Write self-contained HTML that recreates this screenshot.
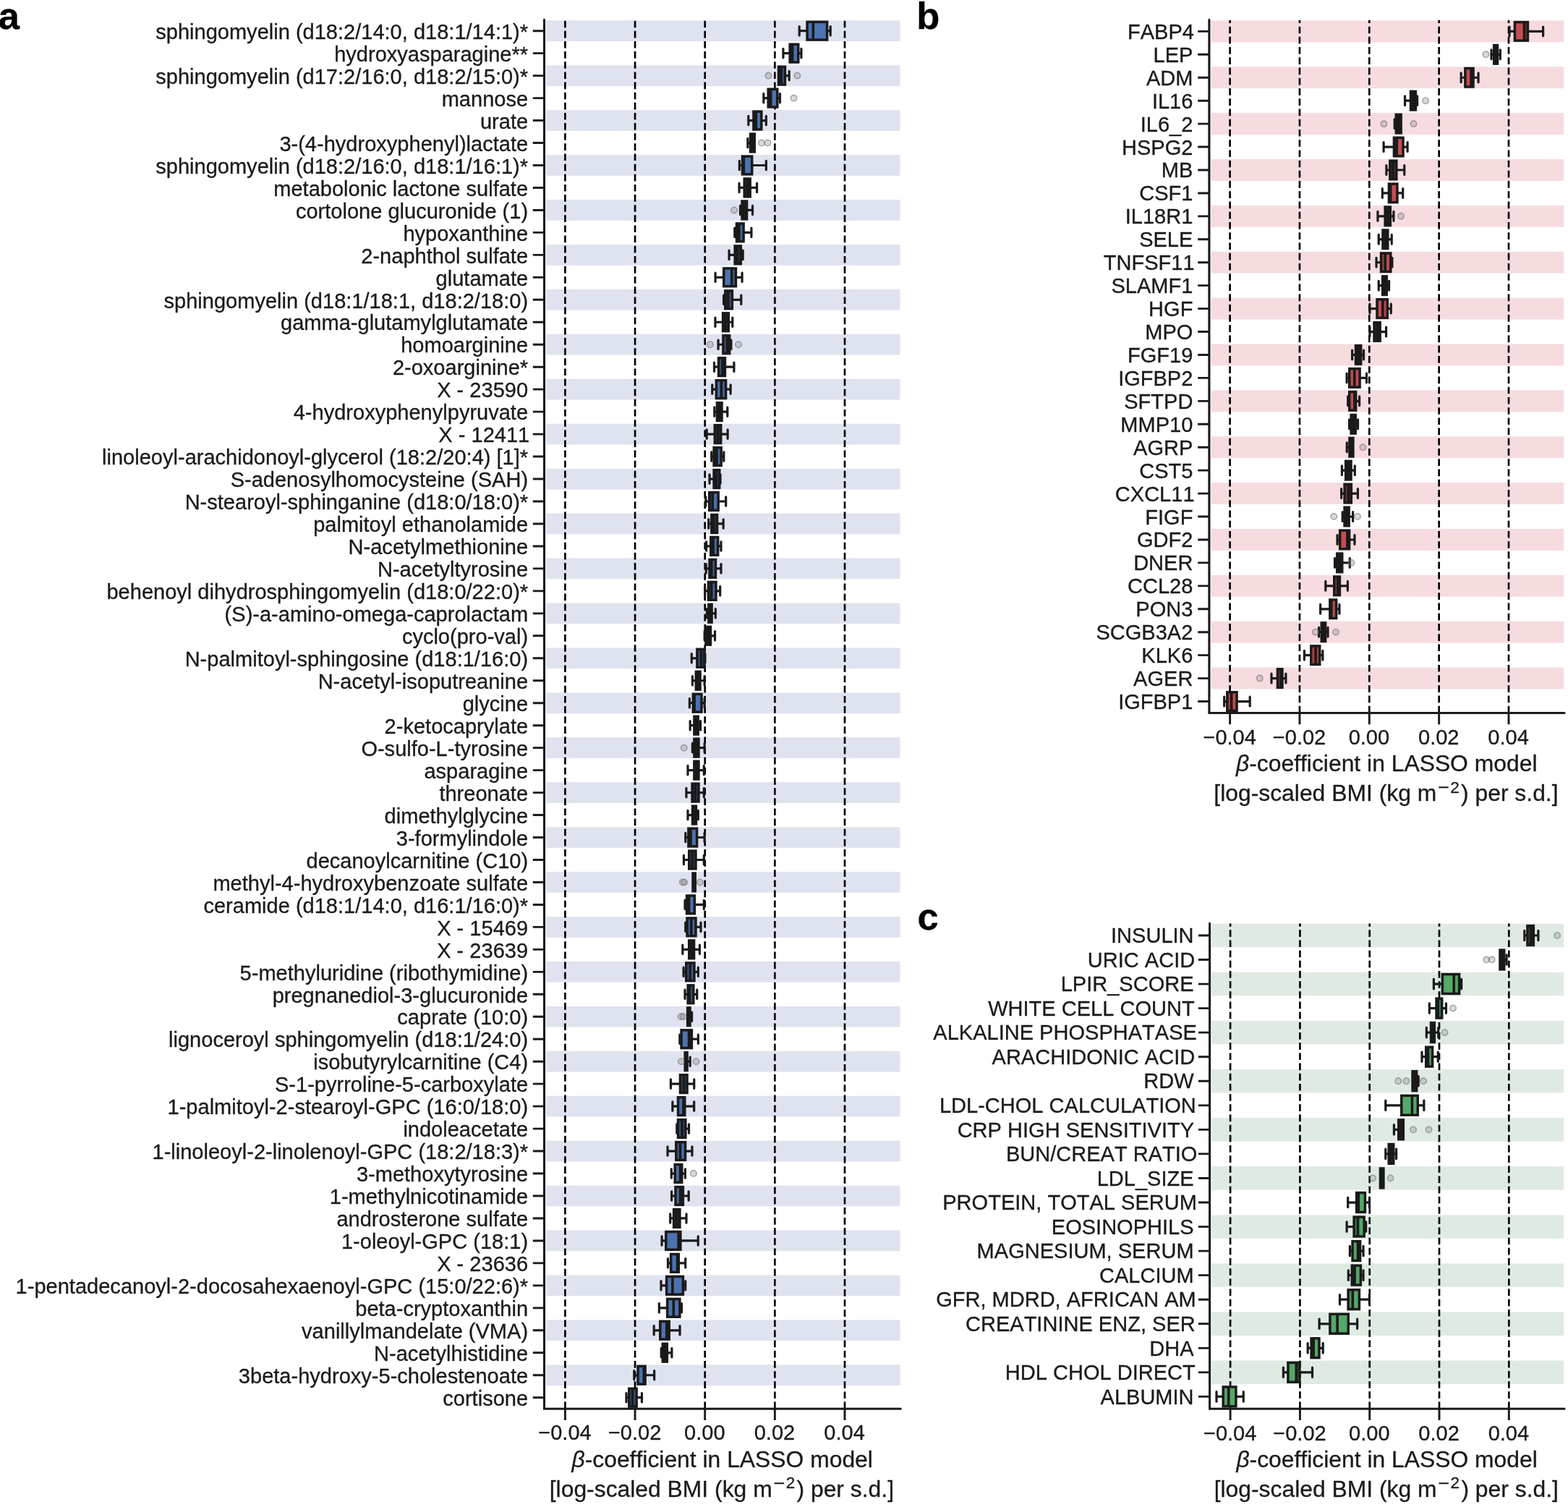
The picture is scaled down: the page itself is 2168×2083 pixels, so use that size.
<!DOCTYPE html>
<html lang="en">
<head>
<meta charset="utf-8">
<title>LASSO model beta-coefficients</title>
<style>
html,body{margin:0;padding:0;background:#fff;}
body{width:2168px;height:2083px;overflow:hidden;}
svg{display:block;font-family:'Liberation Sans', Arial, Helvetica, sans-serif;}
text{white-space:pre;font-kerning:none;stroke:#1a1a1a;stroke-width:0.3px;paint-order:stroke;}
</style>
</head>
<body>
<svg width="2168" height="2083" viewBox="0 0 2168 2083" role="img" aria-label="Box plots of beta-coefficients in LASSO models">
<rect width="2168" height="2083" fill="#fff"/>
<g class="panel-a">
<g fill="#dfe3f0">
<rect x="755.1" y="28.33" width="489.4" height="28.7"/>
<rect x="755.1" y="90.27" width="489.4" height="28.7"/>
<rect x="755.1" y="152.2" width="489.4" height="28.7"/>
<rect x="755.1" y="214.14" width="489.4" height="28.7"/>
<rect x="755.1" y="276.08" width="489.4" height="28.7"/>
<rect x="755.1" y="338.01" width="489.4" height="28.7"/>
<rect x="755.1" y="399.95" width="489.4" height="28.7"/>
<rect x="755.1" y="461.88" width="489.4" height="28.7"/>
<rect x="755.1" y="523.82" width="489.4" height="28.7"/>
<rect x="755.1" y="585.75" width="489.4" height="28.7"/>
<rect x="755.1" y="647.69" width="489.4" height="28.7"/>
<rect x="755.1" y="709.62" width="489.4" height="28.7"/>
<rect x="755.1" y="771.56" width="489.4" height="28.7"/>
<rect x="755.1" y="833.5" width="489.4" height="28.7"/>
<rect x="755.1" y="895.43" width="489.4" height="28.7"/>
<rect x="755.1" y="957.37" width="489.4" height="28.7"/>
<rect x="755.1" y="1019.3" width="489.4" height="28.7"/>
<rect x="755.1" y="1081.24" width="489.4" height="28.7"/>
<rect x="755.1" y="1143.17" width="489.4" height="28.7"/>
<rect x="755.1" y="1205.11" width="489.4" height="28.7"/>
<rect x="755.1" y="1267.04" width="489.4" height="28.7"/>
<rect x="755.1" y="1328.98" width="489.4" height="28.7"/>
<rect x="755.1" y="1390.91" width="489.4" height="28.7"/>
<rect x="755.1" y="1452.85" width="489.4" height="28.7"/>
<rect x="755.1" y="1514.79" width="489.4" height="28.7"/>
<rect x="755.1" y="1576.72" width="489.4" height="28.7"/>
<rect x="755.1" y="1638.66" width="489.4" height="28.7"/>
<rect x="755.1" y="1700.59" width="489.4" height="28.7"/>
<rect x="755.1" y="1762.53" width="489.4" height="28.7"/>
<rect x="755.1" y="1824.46" width="489.4" height="28.7"/>
<rect x="755.1" y="1886.4" width="489.4" height="28.7"/>
</g>
<g stroke="#000" stroke-width="2.65" stroke-dasharray="9.62 4.52" fill="none">
<line x1="781.4" y1="1947.2" x2="781.4" y2="27.6"/>
<line x1="878.05" y1="1947.2" x2="878.05" y2="27.6"/>
<line x1="974.7" y1="1947.2" x2="974.7" y2="27.6"/>
<line x1="1071.35" y1="1947.2" x2="1071.35" y2="27.6"/>
<line x1="1168" y1="1947.2" x2="1168" y2="27.6"/>
</g>
<g stroke="#1a1a1a" stroke-width="3.5" stroke-linecap="round" fill="none">
<path d="M1105.2 36.49V48.88M1105.2 42.68H1116.04" stroke-width="3.2"/>
<path d="M1148.22 36.49V48.88M1148.22 42.68H1143.6" stroke-width="3.2"/>
<rect x="1116.04" y="30.3" width="27.56" height="24.77" fill="#1a1a1a" stroke-linejoin="miter"/>
<rect x="1117.79" y="32.05" width="4.73" height="21.27" fill="#4c71af" stroke="none"/>
<rect x="1126.12" y="32.05" width="15.73" height="21.27" fill="#4c72b0" stroke="none"/>
<path d="M1082.9 67.46V79.85M1082.9 73.65H1092.14" stroke-width="3.2"/>
<path d="M1107.91 67.46V79.85M1107.91 73.65H1103.77" stroke-width="3.2"/>
<rect x="1092.14" y="61.26" width="11.63" height="24.77" fill="#1a1a1a" stroke-linejoin="miter"/>
<rect x="1097.45" y="63.01" width="4.57" height="21.27" fill="#4b71ae" stroke="none"/>
<path d="M1091.18 98.43V110.81M1091.18 104.62H1085.45" stroke-width="3.2"/>
<rect x="1076.52" y="92.23" width="8.93" height="24.77" fill="#1a1a1a" stroke-linejoin="miter"/>
<rect x="1081.83" y="93.98" width="1.87" height="21.27" fill="#3d5883" stroke="none"/>
<path d="M1055.82 129.39V141.78M1055.82 135.59H1062.19" stroke-width="3.2"/>
<path d="M1078.44 129.39V141.78M1078.44 135.59H1074.78" stroke-width="3.2"/>
<rect x="1062.19" y="123.2" width="12.59" height="24.77" fill="#1a1a1a" stroke-linejoin="miter"/>
<rect x="1067.49" y="124.95" width="5.54" height="21.27" fill="#4c72b0" stroke="none"/>
<path d="M1034.78 160.36V172.75M1034.78 166.55H1041.95" stroke-width="3.2"/>
<path d="M1059.32 160.36V172.75M1059.32 166.55H1052.79" stroke-width="3.2"/>
<rect x="1041.95" y="154.17" width="10.84" height="24.77" fill="#1a1a1a" stroke-linejoin="miter"/>
<rect x="1047.1" y="155.92" width="3.94" height="21.27" fill="#4b6fac" stroke="none"/>
<path d="M1033.83 191.33V203.72M1033.83 197.52H1037.49" stroke-width="3.2"/>
<rect x="1037.49" y="185.14" width="5.74" height="24.77" fill="#1a1a1a" stroke-linejoin="miter"/>
<path d="M1022.36 222.3V234.68M1022.36 228.49H1026.5" stroke-width="3.2"/>
<path d="M1059.32 222.3V234.68M1059.32 228.49H1039.73" stroke-width="3.2"/>
<rect x="1026.5" y="216.1" width="13.23" height="24.77" fill="#1a1a1a" stroke-linejoin="miter"/>
<rect x="1030.05" y="217.85" width="7.93" height="21.27" fill="#4c72b0" stroke="none"/>
<path d="M1022.04 253.26V265.65M1022.04 259.46H1029.21" stroke-width="3.2"/>
<path d="M1046.57 253.26V265.65M1046.57 259.46H1037.18" stroke-width="3.2"/>
<rect x="1029.21" y="247.07" width="7.97" height="24.77" fill="#1a1a1a" stroke-linejoin="miter"/>
<rect x="1030.96" y="248.82" width="0.75" height="21.27" fill="#2a364a" stroke="none"/>
<path d="M1023.47 284.23V296.62M1023.47 290.43H1026.02" stroke-width="3.2"/>
<path d="M1040.52 284.23V296.62M1040.52 290.43H1032.56" stroke-width="3.2"/>
<rect x="1026.02" y="278.04" width="6.54" height="24.77" fill="#1a1a1a" stroke-linejoin="miter"/>
<path d="M1015.83 315.2V327.59M1015.83 321.39H1018.53" stroke-width="3.2"/>
<path d="M1038.93 315.2V327.59M1038.93 321.39H1028.1" stroke-width="3.2"/>
<rect x="1018.53" y="309.01" width="9.57" height="24.77" fill="#1a1a1a" stroke-linejoin="miter"/>
<rect x="1023.68" y="310.76" width="2.67" height="21.27" fill="#45669b" stroke="none"/>
<path d="M1008.05 346.17V358.55M1008.05 352.36H1016.17" stroke-width="3.2"/>
<path d="M1027.16 346.17V358.55M1027.16 352.36H1024.3" stroke-width="3.2"/>
<rect x="1016.17" y="339.97" width="8.13" height="24.77" fill="#1a1a1a" stroke-linejoin="miter"/>
<rect x="1021.48" y="341.72" width="1.07" height="21.27" fill="#30415d" stroke="none"/>
<path d="M989.09 377.14V389.52M989.09 383.33H1000.71" stroke-width="3.2"/>
<path d="M1026.05 377.14V389.52M1026.05 383.33H1017.45" stroke-width="3.2"/>
<rect x="1000.71" y="370.94" width="16.74" height="24.77" fill="#1a1a1a" stroke-linejoin="miter"/>
<rect x="1002.46" y="372.69" width="7.45" height="21.27" fill="#4c72b0" stroke="none"/>
<rect x="1013.51" y="372.69" width="2.19" height="21.27" fill="#415e8e" stroke="none"/>
<path d="M1000.56 408.1V420.49M1000.56 414.3H1002.79" stroke-width="3.2"/>
<path d="M1024.77 408.1V420.49M1024.77 414.3H1012.35" stroke-width="3.2"/>
<rect x="1002.79" y="401.91" width="9.56" height="24.77" fill="#1a1a1a" stroke-linejoin="miter"/>
<rect x="1004.54" y="403.66" width="0.59" height="21.27" fill="#273141" stroke="none"/>
<rect x="1008.73" y="403.66" width="1.87" height="21.27" fill="#3d5883" stroke="none"/>
<path d="M988.93 439.07V451.46M988.93 445.26H999.6" stroke-width="3.2"/>
<path d="M1012.83 439.07V451.46M1012.83 445.26H1007.25" stroke-width="3.2"/>
<rect x="999.6" y="432.88" width="7.65" height="24.77" fill="#1a1a1a" stroke-linejoin="miter"/>
<rect x="1005.07" y="434.63" width="0.43" height="21.27" fill="#232b36" stroke="none"/>
<path d="M993.07 470.04V482.43M993.07 476.23H999.92" stroke-width="3.2"/>
<path d="M1010.91 470.04V482.43M1010.91 476.23H1008.69" stroke-width="3.2"/>
<rect x="999.92" y="463.85" width="8.77" height="24.77" fill="#1a1a1a" stroke-linejoin="miter"/>
<rect x="1001.67" y="465.6" width="1.87" height="21.27" fill="#3d5883" stroke="none"/>
<path d="M987.49 501.01V513.39M987.49 507.2H993.55" stroke-width="3.2"/>
<path d="M1014.9 501.01V513.39M1014.9 507.2H1002.47" stroke-width="3.2"/>
<rect x="993.55" y="494.81" width="8.92" height="24.77" fill="#1a1a1a" stroke-linejoin="miter"/>
<rect x="995.3" y="496.56" width="1.86" height="21.27" fill="#3d5783" stroke="none"/>
<path d="M984.78 531.97V544.36M984.78 538.17H990.36" stroke-width="3.2"/>
<path d="M1010.12 531.97V544.36M1010.12 538.17H1003.59" stroke-width="3.2"/>
<rect x="990.36" y="525.78" width="13.23" height="24.77" fill="#1a1a1a" stroke-linejoin="miter"/>
<rect x="992.11" y="527.53" width="3.46" height="21.27" fill="#496da8" stroke="none"/>
<rect x="999.17" y="527.53" width="2.67" height="21.27" fill="#45669b" stroke="none"/>
<path d="M987.81 562.94V575.33M987.81 569.14H991.47" stroke-width="3.2"/>
<path d="M1005.82 562.94V575.33M1005.82 569.14H998.01" stroke-width="3.2"/>
<rect x="991.47" y="556.75" width="6.54" height="24.77" fill="#1a1a1a" stroke-linejoin="miter"/>
<rect x="995.98" y="558.5" width="0.28" height="21.27" fill="#20252d" stroke="none"/>
<path d="M977.14 593.91V606.3M977.14 600.1H988.29" stroke-width="3.2"/>
<path d="M1006.13 593.91V606.3M1006.13 600.1H996.74" stroke-width="3.2"/>
<rect x="988.29" y="587.72" width="8.45" height="24.77" fill="#1a1a1a" stroke-linejoin="miter"/>
<rect x="990.04" y="589.47" width="0.75" height="21.27" fill="#2a364a" stroke="none"/>
<rect x="994.39" y="589.47" width="0.6" height="21.27" fill="#273141" stroke="none"/>
<path d="M983.74 624.88V637.26M983.74 631.07H987.09" stroke-width="3.2"/>
<path d="M1000.79 624.88V637.26M1000.79 631.07H997.13" stroke-width="3.2"/>
<rect x="987.09" y="618.68" width="10.04" height="24.77" fill="#1a1a1a" stroke-linejoin="miter"/>
<rect x="988.84" y="620.43" width="0.27" height="21.27" fill="#20242c" stroke="none"/>
<rect x="992.71" y="620.43" width="2.67" height="21.27" fill="#45669b" stroke="none"/>
<path d="M981.04 655.85V668.23M981.04 662.04H987.09" stroke-width="3.2"/>
<path d="M996.01 655.85V668.23M996.01 662.04H994.74" stroke-width="3.2"/>
<rect x="987.09" y="649.65" width="7.65" height="24.77" fill="#1a1a1a" stroke-linejoin="miter"/>
<rect x="991.92" y="651.4" width="1.07" height="21.27" fill="#30415d" stroke="none"/>
<path d="M975.78 686.81V699.2M975.78 693.01H980.71" stroke-width="3.2"/>
<path d="M1003.66 686.81V699.2M1003.66 693.01H993.15" stroke-width="3.2"/>
<rect x="980.71" y="680.62" width="12.44" height="24.77" fill="#1a1a1a" stroke-linejoin="miter"/>
<rect x="982.46" y="682.37" width="1.08" height="21.27" fill="#31425e" stroke="none"/>
<rect x="987.14" y="682.37" width="4.26" height="21.27" fill="#4b70ad" stroke="none"/>
<path d="M979.76 717.78V730.17M979.76 723.97H983.9" stroke-width="3.2"/>
<path d="M1000.15 717.78V730.17M1000.15 723.97H991.55" stroke-width="3.2"/>
<rect x="983.9" y="711.59" width="7.65" height="24.77" fill="#1a1a1a" stroke-linejoin="miter"/>
<rect x="988.73" y="713.34" width="1.07" height="21.27" fill="#30415d" stroke="none"/>
<path d="M976.57 748.75V761.14M976.57 754.94H982.79" stroke-width="3.2"/>
<path d="M996.97 748.75V761.14M996.97 754.94H992.67" stroke-width="3.2"/>
<rect x="982.79" y="742.55" width="9.88" height="24.77" fill="#1a1a1a" stroke-linejoin="miter"/>
<rect x="987.93" y="744.3" width="2.99" height="21.27" fill="#4769a1" stroke="none"/>
<path d="M976.26 779.72V792.1M976.26 785.91H981.03" stroke-width="3.2"/>
<path d="M996.97 779.72V792.1M996.97 785.91H989.48" stroke-width="3.2"/>
<rect x="981.03" y="773.52" width="8.45" height="24.77" fill="#1a1a1a" stroke-linejoin="miter"/>
<rect x="985.54" y="775.27" width="2.19" height="21.27" fill="#415e8e" stroke="none"/>
<path d="M974.66 810.68V823.07M974.66 816.88H979.44" stroke-width="3.2"/>
<path d="M995.69 810.68V823.07M995.69 816.88H989.96" stroke-width="3.2"/>
<rect x="979.44" y="804.49" width="10.52" height="24.77" fill="#1a1a1a" stroke-linejoin="miter"/>
<rect x="981.19" y="806.24" width="0.75" height="21.27" fill="#2a364a" stroke="none"/>
<rect x="985.54" y="806.24" width="2.67" height="21.27" fill="#45669b" stroke="none"/>
<path d="M977.37 841.65V854.04M977.37 847.85H979.92" stroke-width="3.2"/>
<path d="M989.32 841.65V854.04M989.32 847.85H984.07" stroke-width="3.2"/>
<rect x="979.92" y="835.46" width="4.15" height="24.77" fill="#1a1a1a" stroke-linejoin="miter"/>
<path d="M974.18 872.62V885.01M974.18 878.81H975.93" stroke-width="3.2"/>
<path d="M988.52 872.62V885.01M988.52 878.81H982.47" stroke-width="3.2"/>
<rect x="975.93" y="866.43" width="6.54" height="24.77" fill="#1a1a1a" stroke-linejoin="miter"/>
<path d="M956.26 903.59V915.97M956.26 909.78H963.9" stroke-width="3.2"/>
<path d="M974.9 903.59V915.97M974.9 909.78H973.94" stroke-width="3.2"/>
<rect x="963.9" y="897.39" width="10.04" height="24.77" fill="#1a1a1a" stroke-linejoin="miter"/>
<rect x="965.65" y="899.14" width="1.87" height="21.27" fill="#3d5883" stroke="none"/>
<rect x="971.12" y="899.14" width="1.07" height="21.27" fill="#30415d" stroke="none"/>
<path d="M957.37 934.55V946.94M957.37 940.75H962.31" stroke-width="3.2"/>
<path d="M974.1 934.55V946.94M974.1 940.75H968.05" stroke-width="3.2"/>
<rect x="962.31" y="928.36" width="5.74" height="24.77" fill="#1a1a1a" stroke-linejoin="miter"/>
<path d="M953.39 965.52V977.91M953.39 971.72H958.32" stroke-width="3.2"/>
<path d="M974.1 965.52V977.91M974.1 971.72H969.96" stroke-width="3.2"/>
<rect x="958.32" y="959.33" width="11.64" height="24.77" fill="#1a1a1a" stroke-linejoin="miter"/>
<rect x="961.87" y="961.08" width="6.34" height="21.27" fill="#4c72b0" stroke="none"/>
<path d="M954.18 996.49V1008.88M954.18 1002.68H959.92" stroke-width="3.2"/>
<path d="M968.52 996.49V1008.88M968.52 1002.68H965.18" stroke-width="3.2"/>
<rect x="959.92" y="990.3" width="5.26" height="24.77" fill="#1a1a1a" stroke-linejoin="miter"/>
<path d="M957.37 1027.46V1039.85M957.37 1033.65H959.92" stroke-width="3.2"/>
<path d="M974.1 1027.46V1039.85M974.1 1033.65H965.98" stroke-width="3.2"/>
<rect x="959.92" y="1021.26" width="6.06" height="24.77" fill="#1a1a1a" stroke-linejoin="miter"/>
<path d="M951 1058.43V1070.81M951 1064.62H959.92" stroke-width="3.2"/>
<path d="M973.3 1058.43V1070.81M973.3 1064.62H965.98" stroke-width="3.2"/>
<rect x="959.92" y="1052.23" width="6.06" height="24.77" fill="#1a1a1a" stroke-linejoin="miter"/>
<path d="M948.93 1089.39V1101.78M948.93 1095.59H957.05" stroke-width="3.2"/>
<path d="M973.3 1089.39V1101.78M973.3 1095.59H965.98" stroke-width="3.2"/>
<rect x="957.05" y="1083.2" width="8.93" height="24.77" fill="#1a1a1a" stroke-linejoin="miter"/>
<rect x="958.8" y="1084.95" width="0.75" height="21.27" fill="#2a364a" stroke="none"/>
<rect x="963.15" y="1084.95" width="1.08" height="21.27" fill="#31425e" stroke="none"/>
<path d="M951 1120.36V1132.75M951 1126.55H957.53" stroke-width="3.2"/>
<path d="M965.34 1120.36V1132.75M965.34 1126.55H962.47" stroke-width="3.2"/>
<rect x="957.53" y="1114.17" width="4.94" height="24.77" fill="#1a1a1a" stroke-linejoin="miter"/>
<path d="M947.81 1151.33V1163.72M947.81 1157.52H951.95" stroke-width="3.2"/>
<path d="M974.1 1151.33V1163.72M974.1 1157.52H963.59" stroke-width="3.2"/>
<rect x="951.95" y="1145.14" width="11.64" height="24.77" fill="#1a1a1a" stroke-linejoin="miter"/>
<rect x="956.78" y="1146.89" width="5.06" height="21.27" fill="#4c72af" stroke="none"/>
<path d="M945.42 1182.3V1194.68M945.42 1188.49H952.75" stroke-width="3.2"/>
<path d="M973.3 1182.3V1194.68M973.3 1188.49H961.99" stroke-width="3.2"/>
<rect x="952.75" y="1176.1" width="9.24" height="24.77" fill="#1a1a1a" stroke-linejoin="miter"/>
<rect x="954.5" y="1177.85" width="1.07" height="21.27" fill="#30415d" stroke="none"/>
<rect x="959.17" y="1177.85" width="1.07" height="21.27" fill="#30415d" stroke="none"/>
<rect x="958.01" y="1207.07" width="3.19" height="24.77" fill="#1a1a1a" stroke-linejoin="miter"/>
<path d="M947.02 1244.23V1256.62M947.02 1250.43H949.56" stroke-width="3.2"/>
<path d="M973.3 1244.23V1256.62M973.3 1250.43H960.4" stroke-width="3.2"/>
<rect x="949.56" y="1238.04" width="10.84" height="24.77" fill="#1a1a1a" stroke-linejoin="miter"/>
<rect x="954.39" y="1239.79" width="4.26" height="21.27" fill="#4b70ad" stroke="none"/>
<path d="M947.81 1275.2V1287.59M947.81 1281.39H950.04" stroke-width="3.2"/>
<path d="M969 1275.2V1287.59M969 1281.39H961.99" stroke-width="3.2"/>
<rect x="950.04" y="1269.01" width="11.95" height="24.77" fill="#1a1a1a" stroke-linejoin="miter"/>
<rect x="951.79" y="1270.76" width="2.19" height="21.27" fill="#415e8e" stroke="none"/>
<rect x="957.58" y="1270.76" width="2.66" height="21.27" fill="#45669b" stroke="none"/>
<path d="M943.83 1306.17V1318.55M943.83 1312.36H952.75" stroke-width="3.2"/>
<path d="M967.41 1306.17V1318.55M967.41 1312.36H959.6" stroke-width="3.2"/>
<rect x="952.75" y="1299.97" width="6.85" height="24.77" fill="#1a1a1a" stroke-linejoin="miter"/>
<path d="M945.1 1337.14V1349.52M945.1 1343.33H948.77" stroke-width="3.2"/>
<path d="M965.34 1337.14V1349.52M965.34 1343.33H959.92" stroke-width="3.2"/>
<rect x="948.77" y="1330.94" width="11.15" height="24.77" fill="#1a1a1a" stroke-linejoin="miter"/>
<rect x="950.52" y="1332.69" width="1.86" height="21.27" fill="#3d5783" stroke="none"/>
<rect x="955.98" y="1332.69" width="2.19" height="21.27" fill="#415e8e" stroke="none"/>
<path d="M947.02 1368.1V1380.49M947.02 1374.3H951.16" stroke-width="3.2"/>
<path d="M963.74 1368.1V1380.49M963.74 1374.3H958.81" stroke-width="3.2"/>
<rect x="951.16" y="1361.91" width="7.65" height="24.77" fill="#1a1a1a" stroke-linejoin="miter"/>
<rect x="955.19" y="1363.66" width="1.87" height="21.27" fill="#3d5883" stroke="none"/>
<path d="M956.57 1399.07V1411.46M956.57 1405.26H954.03" stroke-width="3.2"/>
<rect x="950.68" y="1392.88" width="3.35" height="24.77" fill="#1a1a1a" stroke-linejoin="miter"/>
<path d="M939.85 1430.04V1442.43M939.85 1436.23H942.07" stroke-width="3.2"/>
<path d="M965.34 1430.04V1442.43M965.34 1436.23H956.42" stroke-width="3.2"/>
<rect x="942.07" y="1423.85" width="14.35" height="24.77" fill="#1a1a1a" stroke-linejoin="miter"/>
<rect x="943.82" y="1425.6" width="6.97" height="21.27" fill="#4c72b0" stroke="none"/>
<rect x="954.39" y="1425.6" width="0.28" height="21.27" fill="#20252d" stroke="none"/>
<path d="M954.18 1461.01V1473.39M954.18 1467.2H950.05" stroke-width="3.2"/>
<rect x="947.17" y="1454.81" width="2.88" height="24.77" fill="#1a1a1a" stroke-linejoin="miter"/>
<path d="M927.42 1491.97V1504.36M927.42 1498.17H940.48" stroke-width="3.2"/>
<path d="M959.76 1491.97V1504.36M959.76 1498.17H950.05" stroke-width="3.2"/>
<rect x="940.48" y="1485.78" width="9.57" height="24.77" fill="#1a1a1a" stroke-linejoin="miter"/>
<rect x="942.23" y="1487.53" width="1.39" height="21.27" fill="#364b6e" stroke="none"/>
<rect x="947.22" y="1487.53" width="1.08" height="21.27" fill="#31425e" stroke="none"/>
<path d="M929.88 1522.94V1535.33M929.88 1529.14H937.53" stroke-width="3.2"/>
<path d="M959.68 1522.94V1535.33M959.68 1529.14H946.77" stroke-width="3.2"/>
<rect x="937.53" y="1516.75" width="9.24" height="24.77" fill="#1a1a1a" stroke-linejoin="miter"/>
<rect x="939.28" y="1518.5" width="3.94" height="21.27" fill="#4b6fac" stroke="none"/>
<path d="M935.78 1553.91V1566.3M935.78 1560.1H937.53" stroke-width="3.2"/>
<path d="M952.51 1553.91V1566.3M952.51 1560.1H947.89" stroke-width="3.2"/>
<rect x="937.53" y="1547.72" width="10.36" height="24.77" fill="#1a1a1a" stroke-linejoin="miter"/>
<rect x="939.28" y="1549.47" width="1.87" height="21.27" fill="#3d5883" stroke="none"/>
<rect x="944.75" y="1549.47" width="1.39" height="21.27" fill="#364b6e" stroke="none"/>
<path d="M923.03 1584.88V1597.26M923.03 1591.07H934.82" stroke-width="3.2"/>
<path d="M956.97 1584.88V1597.26M956.97 1591.07H947.57" stroke-width="3.2"/>
<rect x="934.82" y="1578.68" width="12.75" height="24.77" fill="#1a1a1a" stroke-linejoin="miter"/>
<rect x="936.57" y="1580.43" width="2.19" height="21.27" fill="#415e8e" stroke="none"/>
<rect x="942.36" y="1580.43" width="3.46" height="21.27" fill="#496da8" stroke="none"/>
<path d="M928.29 1615.85V1628.23M928.29 1622.04H933.23" stroke-width="3.2"/>
<path d="M947.41 1615.85V1628.23M947.41 1622.04H942.79" stroke-width="3.2"/>
<rect x="933.23" y="1609.65" width="9.56" height="24.77" fill="#1a1a1a" stroke-linejoin="miter"/>
<rect x="934.98" y="1611.4" width="3.78" height="21.27" fill="#4a6fab" stroke="none"/>
<path d="M928.61 1646.81V1659.2M928.61 1653.01H934.02" stroke-width="3.2"/>
<path d="M952.19 1646.81V1659.2M952.19 1653.01H944.38" stroke-width="3.2"/>
<rect x="934.02" y="1640.62" width="10.36" height="24.77" fill="#1a1a1a" stroke-linejoin="miter"/>
<rect x="935.77" y="1642.37" width="2.99" height="21.27" fill="#4769a1" stroke="none"/>
<rect x="942.36" y="1642.37" width="0.27" height="21.27" fill="#20242c" stroke="none"/>
<path d="M926.7 1677.78V1690.17M926.7 1683.97H931.63" stroke-width="3.2"/>
<path d="M949 1677.78V1690.17M949 1683.97H939.92" stroke-width="3.2"/>
<rect x="931.63" y="1671.59" width="8.29" height="24.77" fill="#1a1a1a" stroke-linejoin="miter"/>
<rect x="933.38" y="1673.34" width="0.6" height="21.27" fill="#273141" stroke="none"/>
<rect x="937.58" y="1673.34" width="0.59" height="21.27" fill="#273141" stroke="none"/>
<path d="M915.07 1708.75V1721.14M915.07 1714.94H920.8" stroke-width="3.2"/>
<path d="M965.25 1708.75V1721.14M965.25 1714.94H940.88" stroke-width="3.2"/>
<rect x="920.8" y="1702.55" width="20.08" height="24.77" fill="#1a1a1a" stroke-linejoin="miter"/>
<rect x="922.55" y="1704.3" width="13.82" height="21.27" fill="#4c72b0" stroke="none"/>
<path d="M923.51 1739.72V1752.1M923.51 1745.91H927.65" stroke-width="3.2"/>
<path d="M947.73 1739.72V1752.1M947.73 1745.91H938.33" stroke-width="3.2"/>
<rect x="927.65" y="1733.52" width="10.68" height="24.77" fill="#1a1a1a" stroke-linejoin="miter"/>
<rect x="929.4" y="1735.27" width="5.38" height="21.27" fill="#4c72b0" stroke="none"/>
<path d="M913.95 1770.68V1783.07M913.95 1776.88H921.6" stroke-width="3.2"/>
<path d="M947.73 1770.68V1783.07M947.73 1776.88H944.38" stroke-width="3.2"/>
<rect x="921.6" y="1764.49" width="22.78" height="24.77" fill="#1a1a1a" stroke-linejoin="miter"/>
<rect x="923.35" y="1766.24" width="4.73" height="21.27" fill="#4c71af" stroke="none"/>
<rect x="931.68" y="1766.24" width="10.95" height="21.27" fill="#4c72b0" stroke="none"/>
<path d="M911.35 1801.65V1814.04M911.35 1807.85H922.66" stroke-width="3.2"/>
<path d="M942.42 1801.65V1814.04M942.42 1807.85H939.88" stroke-width="3.2"/>
<rect x="922.66" y="1795.46" width="17.22" height="24.77" fill="#1a1a1a" stroke-linejoin="miter"/>
<rect x="924.41" y="1797.21" width="5.06" height="21.27" fill="#4c72af" stroke="none"/>
<rect x="933.07" y="1797.21" width="5.06" height="21.27" fill="#4c72af" stroke="none"/>
<path d="M904.18 1832.62V1845.01M904.18 1838.81H912.79" stroke-width="3.2"/>
<path d="M940.03 1832.62V1845.01M940.03 1838.81H925.22" stroke-width="3.2"/>
<rect x="912.79" y="1826.43" width="12.43" height="24.77" fill="#1a1a1a" stroke-linejoin="miter"/>
<rect x="914.54" y="1828.18" width="5.37" height="21.27" fill="#4c72b0" stroke="none"/>
<path d="M914.22 1863.59V1875.97M914.22 1869.78H916.29" stroke-width="3.2"/>
<path d="M928.88 1863.59V1875.97M928.88 1869.78H922.35" stroke-width="3.2"/>
<rect x="916.29" y="1857.39" width="6.06" height="24.77" fill="#1a1a1a" stroke-linejoin="miter"/>
<path d="M876.78 1894.55V1906.94M876.78 1900.75H882.04" stroke-width="3.2"/>
<path d="M904.66 1894.55V1906.94M904.66 1900.75H892.08" stroke-width="3.2"/>
<rect x="882.04" y="1888.36" width="10.04" height="24.77" fill="#1a1a1a" stroke-linejoin="miter"/>
<rect x="883.79" y="1890.11" width="4.73" height="21.27" fill="#4c71af" stroke="none"/>
<path d="M865.95 1925.52V1937.91M865.95 1931.72H869.77" stroke-width="3.2"/>
<path d="M887.46 1925.52V1937.91M887.46 1931.72H880.13" stroke-width="3.2"/>
<rect x="869.77" y="1919.33" width="10.36" height="24.77" fill="#1a1a1a" stroke-linejoin="miter"/>
<rect x="871.52" y="1921.08" width="1.39" height="21.27" fill="#364b6e" stroke="none"/>
<rect x="876.51" y="1921.08" width="1.87" height="21.27" fill="#3d5883" stroke="none"/>
</g>
<g fill="#808080" fill-opacity="0.3" stroke="#6e6e6e" stroke-opacity="0.55" stroke-width="1.6">
<circle cx="1062.51" cy="104.62" r="4.2"/>
<circle cx="1102.34" cy="104.62" r="4.2"/>
<circle cx="1097.56" cy="135.59" r="4.2"/>
<circle cx="1052.95" cy="197.52" r="4.2"/>
<circle cx="1061.39" cy="197.52" r="4.2"/>
<circle cx="1015.03" cy="290.43" r="4.2"/>
<circle cx="981.92" cy="476.23" r="4.2"/>
<circle cx="1020.95" cy="476.23" r="4.2"/>
<circle cx="945.74" cy="1033.65" r="4.2"/>
<circle cx="943.83" cy="1219.46" r="4.2"/>
<circle cx="946.22" cy="1219.46" r="4.2"/>
<circle cx="967.73" cy="1219.46" r="4.2"/>
<circle cx="941.44" cy="1405.26" r="4.2"/>
<circle cx="944.63" cy="1405.26" r="4.2"/>
<circle cx="941.92" cy="1467.2" r="4.2"/>
<circle cx="962.47" cy="1467.2" r="4.2"/>
<circle cx="958.88" cy="1622.04" r="4.2"/>
</g>
<g stroke="#1a1a1a" stroke-width="3.1" fill="none" stroke-linecap="butt">
<path d="M752.5 27.2V1947.2H1245.3" stroke-linecap="round" stroke-linejoin="miter"/>
<path d="M736.8 42.68H752.5M736.8 73.65H752.5M736.8 104.62H752.5M736.8 135.59H752.5M736.8 166.55H752.5M736.8 197.52H752.5M736.8 228.49H752.5M736.8 259.46H752.5M736.8 290.43H752.5M736.8 321.39H752.5M736.8 352.36H752.5M736.8 383.33H752.5M736.8 414.3H752.5M736.8 445.26H752.5M736.8 476.23H752.5M736.8 507.2H752.5M736.8 538.17H752.5M736.8 569.14H752.5M736.8 600.1H752.5M736.8 631.07H752.5M736.8 662.04H752.5M736.8 693.01H752.5M736.8 723.97H752.5M736.8 754.94H752.5M736.8 785.91H752.5M736.8 816.88H752.5M736.8 847.85H752.5M736.8 878.81H752.5M736.8 909.78H752.5M736.8 940.75H752.5M736.8 971.72H752.5M736.8 1002.68H752.5M736.8 1033.65H752.5M736.8 1064.62H752.5M736.8 1095.59H752.5M736.8 1126.55H752.5M736.8 1157.52H752.5M736.8 1188.49H752.5M736.8 1219.46H752.5M736.8 1250.43H752.5M736.8 1281.39H752.5M736.8 1312.36H752.5M736.8 1343.33H752.5M736.8 1374.3H752.5M736.8 1405.26H752.5M736.8 1436.23H752.5M736.8 1467.2H752.5M736.8 1498.17H752.5M736.8 1529.14H752.5M736.8 1560.1H752.5M736.8 1591.07H752.5M736.8 1622.04H752.5M736.8 1653.01H752.5M736.8 1683.97H752.5M736.8 1714.94H752.5M736.8 1745.91H752.5M736.8 1776.88H752.5M736.8 1807.85H752.5M736.8 1838.81H752.5M736.8 1869.78H752.5M736.8 1900.75H752.5M736.8 1931.72H752.5M781.4 1947.2V1962.9M878.05 1947.2V1962.9M974.7 1947.2V1962.9M1071.35 1947.2V1962.9M1168 1947.2V1962.9" stroke-width="2.9"/>
</g>
<g font-size="29.04" text-anchor="end" fill="#1a1a1a">
<text x="730.1" y="53.88">sphingomyelin (d18:2/14:0, d18:1/14:1)*</text>
<text x="730.1" y="84.85">hydroxyasparagine**</text>
<text x="730.1" y="115.82">sphingomyelin (d17:2/16:0, d18:2/15:0)*</text>
<text x="730.1" y="146.79">mannose</text>
<text x="730.1" y="177.75">urate</text>
<text x="730.1" y="208.72">3-(4-hydroxyphenyl)lactate</text>
<text x="730.1" y="239.69">sphingomyelin (d18:2/16:0, d18:1/16:1)*</text>
<text x="730.1" y="270.66">metabolonic lactone sulfate</text>
<text x="730.1" y="301.63">cortolone glucuronide (1)</text>
<text x="730.1" y="332.59">hypoxanthine</text>
<text x="730.1" y="363.56">2-naphthol sulfate</text>
<text x="730.1" y="394.53">glutamate</text>
<text x="730.1" y="425.5">sphingomyelin (d18:1/18:1, d18:2/18:0)</text>
<text x="730.1" y="456.46">gamma-glutamylglutamate</text>
<text x="730.1" y="487.43">homoarginine</text>
<text x="730.1" y="518.4">2-oxoarginine*</text>
<text x="730.1" y="549.37">X - 23590</text>
<text x="730.1" y="580.34">4-hydroxyphenylpyruvate</text>
<text x="732.26" y="611.3">X - 12411</text>
<text x="730.1" y="642.27">linoleoyl-arachidonoyl-glycerol (18:2/20:4) [1]*</text>
<text x="730.1" y="673.24">S-adenosylhomocysteine (SAH)</text>
<text x="730.1" y="704.21">N-stearoyl-sphinganine (d18:0/18:0)*</text>
<text x="730.1" y="735.17">palmitoyl ethanolamide</text>
<text x="730.1" y="766.14">N-acetylmethionine</text>
<text x="730.1" y="797.11">N-acetyltyrosine</text>
<text x="730.1" y="828.08">behenoyl dihydrosphingomyelin (d18:0/22:0)*</text>
<text x="730.1" y="859.05">(S)-a-amino-omega-caprolactam</text>
<text x="730.1" y="890.01">cyclo(pro-val)</text>
<text x="730.1" y="920.98">N-palmitoyl-sphingosine (d18:1/16:0)</text>
<text x="730.1" y="951.95">N-acetyl-isoputreanine</text>
<text x="730.1" y="982.92">glycine</text>
<text x="730.1" y="1013.88">2-ketocaprylate</text>
<text x="730.1" y="1044.85">O-sulfo-L-tyrosine</text>
<text x="730.1" y="1075.82">asparagine</text>
<text x="730.1" y="1106.79">threonate</text>
<text x="730.1" y="1137.75">dimethylglycine</text>
<text x="730.1" y="1168.72">3-formylindole</text>
<text x="730.1" y="1199.69">decanoylcarnitine (C10)</text>
<text x="730.1" y="1230.66">methyl-4-hydroxybenzoate sulfate</text>
<text x="730.1" y="1261.63">ceramide (d18:1/14:0, d16:1/16:0)*</text>
<text x="730.1" y="1292.59">X - 15469</text>
<text x="730.1" y="1323.56">X - 23639</text>
<text x="730.1" y="1354.53">5-methyluridine (ribothymidine)</text>
<text x="730.1" y="1385.5">pregnanediol-3-glucuronide</text>
<text x="730.1" y="1416.46">caprate (10:0)</text>
<text x="730.1" y="1447.43">lignoceroyl sphingomyelin (d18:1/24:0)</text>
<text x="730.1" y="1478.4">isobutyrylcarnitine (C4)</text>
<text x="730.1" y="1509.37">S-1-pyrroline-5-carboxylate</text>
<text x="730.1" y="1540.34">1-palmitoyl-2-stearoyl-GPC (16:0/18:0)</text>
<text x="730.1" y="1571.3">indoleacetate</text>
<text x="730.1" y="1602.27">1-linoleoyl-2-linolenoyl-GPC (18:2/18:3)*</text>
<text x="730.1" y="1633.24">3-methoxytyrosine</text>
<text x="730.1" y="1664.21">1-methylnicotinamide</text>
<text x="730.1" y="1695.17">androsterone sulfate</text>
<text x="730.1" y="1726.14">1-oleoyl-GPC (18:1)</text>
<text x="730.1" y="1757.11">X - 23636</text>
<text x="730.1" y="1788.08">1-pentadecanoyl-2-docosahexaenoyl-GPC (15:0/22:6)*</text>
<text x="730.1" y="1819.05">beta-cryptoxanthin</text>
<text x="730.1" y="1850.01">vanillylmandelate (VMA)</text>
<text x="730.1" y="1880.98">N-acetylhistidine</text>
<text x="730.1" y="1911.95">3beta-hydroxy-5-cholestenoate</text>
<text x="730.1" y="1942.92">cortisone</text>
</g>
<g font-size="29.04" text-anchor="middle" fill="#1a1a1a">
<text x="781" y="1989.6">−0.04</text>
<text x="877.65" y="1989.6">−0.02</text>
<text x="974.3" y="1989.6">0.00</text>
<text x="1070.95" y="1989.6">0.02</text>
<text x="1167.6" y="1989.6">0.04</text>
</g>
<g font-size="31.85" text-anchor="middle" fill="#1a1a1a">
<text x="998.7" y="2027.5"><tspan font-style="italic">β</tspan>-coefficient in LASSO model</text>
<text x="1067.7" y="2069.1" text-anchor="end">[log-scaled BMI (kg m</text>
<text x="1068.7" y="2057.1" text-anchor="start" font-family="'DejaVu Sans', sans-serif" font-size="21.0">−</text>
<text x="1086.7" y="2057.2" text-anchor="start" font-size="22.6">2</text>
<text x="1101.5" y="2069.1" text-anchor="start">) per s.d.]</text>
</g>
<text x="-2.2" y="40.3" font-size="52.5" font-weight="bold" fill="#000">a</text>
</g>
<g class="panel-b">
<g fill="#f6dcdf">
<rect x="1674.5" y="28.42" width="487.7" height="29.9"/>
<rect x="1674.5" y="92.29" width="487.7" height="29.9"/>
<rect x="1674.5" y="156.17" width="487.7" height="29.9"/>
<rect x="1674.5" y="220.04" width="487.7" height="29.9"/>
<rect x="1674.5" y="283.91" width="487.7" height="29.9"/>
<rect x="1674.5" y="347.79" width="487.7" height="29.9"/>
<rect x="1674.5" y="411.66" width="487.7" height="29.9"/>
<rect x="1674.5" y="475.53" width="487.7" height="29.9"/>
<rect x="1674.5" y="539.4" width="487.7" height="29.9"/>
<rect x="1674.5" y="603.28" width="487.7" height="29.9"/>
<rect x="1674.5" y="667.15" width="487.7" height="29.9"/>
<rect x="1674.5" y="731.02" width="487.7" height="29.9"/>
<rect x="1674.5" y="794.9" width="487.7" height="29.9"/>
<rect x="1674.5" y="858.77" width="487.7" height="29.9"/>
<rect x="1674.5" y="922.64" width="487.7" height="29.9"/>
</g>
<g stroke="#000" stroke-width="2.65" stroke-dasharray="9.68 4.55" fill="none">
<line x1="1700.6" y1="985.5" x2="1700.6" y2="27.8"/>
<line x1="1796.95" y1="985.5" x2="1796.95" y2="27.8"/>
<line x1="1893.3" y1="985.5" x2="1893.3" y2="27.8"/>
<line x1="1989.65" y1="985.5" x2="1989.65" y2="27.8"/>
<line x1="2086" y1="985.5" x2="2086" y2="27.8"/>
</g>
<g stroke="#1a1a1a" stroke-width="3.5" stroke-linecap="round" fill="none">
<path d="M2087.07 36.98V49.76M2087.07 43.37H2094.39" stroke-width="3.2"/>
<path d="M2133.59 36.98V49.76M2133.59 43.37H2112.4" stroke-width="3.2"/>
<rect x="2094.39" y="30.59" width="18.01" height="25.55" fill="#1a1a1a" stroke-linejoin="miter"/>
<rect x="2096.14" y="32.34" width="9.52" height="22.05" fill="#c44e52" stroke="none"/>
<rect x="2109.26" y="32.34" width="1.39" height="22.05" fill="#793739" stroke="none"/>
<path d="M2062.05 68.92V81.69M2062.05 75.31H2065.71" stroke-width="3.2"/>
<path d="M2074.32 68.92V81.69M2074.32 75.31H2070.5" stroke-width="3.2"/>
<rect x="2065.71" y="62.53" width="4.79" height="25.55" fill="#1a1a1a" stroke-linejoin="miter"/>
<path d="M2020.15 100.85V113.63M2020.15 107.24H2025.88" stroke-width="3.2"/>
<path d="M2044.05 100.85V113.63M2044.05 107.24H2037.04" stroke-width="3.2"/>
<rect x="2025.88" y="94.47" width="11.16" height="25.55" fill="#1a1a1a" stroke-linejoin="miter"/>
<rect x="2027.63" y="96.22" width="4.58" height="22.05" fill="#c24d51" stroke="none"/>
<path d="M1942.56 132.79V145.57M1942.56 139.18H1950.53" stroke-width="3.2"/>
<path d="M1959.61 132.79V145.57M1959.61 139.18H1957.38" stroke-width="3.2"/>
<rect x="1950.53" y="126.4" width="6.85" height="25.55" fill="#1a1a1a" stroke-linejoin="miter"/>
<path d="M1928.22 164.73V177.5M1928.22 171.12H1930.29" stroke-width="3.2"/>
<rect x="1930.29" y="158.34" width="6.86" height="25.55" fill="#1a1a1a" stroke-linejoin="miter"/>
<path d="M1913.09 196.66V209.44M1913.09 203.05H1927.42" stroke-width="3.2"/>
<path d="M1946.07 196.66V209.44M1946.07 203.05H1940.02" stroke-width="3.2"/>
<rect x="1927.42" y="190.28" width="12.6" height="25.55" fill="#1a1a1a" stroke-linejoin="miter"/>
<rect x="1929.17" y="192.03" width="0.28" height="22.05" fill="#2f2021" stroke="none"/>
<rect x="1933.05" y="192.03" width="5.22" height="22.05" fill="#c34e52" stroke="none"/>
<path d="M1916.91 228.6V241.38M1916.91 234.99H1921.85" stroke-width="3.2"/>
<path d="M1941.77 228.6V241.38M1941.77 234.99H1930.77" stroke-width="3.2"/>
<rect x="1921.85" y="222.21" width="8.92" height="25.55" fill="#1a1a1a" stroke-linejoin="miter"/>
<rect x="1923.6" y="223.96" width="0.75" height="22.05" fill="#512b2c" stroke="none"/>
<rect x="1927.95" y="223.96" width="1.07" height="22.05" fill="#663133" stroke="none"/>
<path d="M1911.34 260.54V273.31M1911.34 266.93H1920.41" stroke-width="3.2"/>
<path d="M1939.69 260.54V273.31M1939.69 266.93H1931.89" stroke-width="3.2"/>
<rect x="1920.41" y="254.15" width="11.48" height="25.55" fill="#1a1a1a" stroke-linejoin="miter"/>
<rect x="1924.45" y="255.9" width="5.69" height="22.05" fill="#c44e52" stroke="none"/>
<path d="M1904.96 292.47V305.25M1904.96 298.86H1915.16" stroke-width="3.2"/>
<path d="M1926.95 292.47V305.25M1926.95 298.86H1922.33" stroke-width="3.2"/>
<rect x="1915.16" y="286.09" width="7.17" height="25.55" fill="#1a1a1a" stroke-linejoin="miter"/>
<path d="M1906.22 324.41V337.19M1906.22 330.8H1911.95" stroke-width="3.2"/>
<path d="M1924.22 324.41V337.19M1924.22 330.8H1918.81" stroke-width="3.2"/>
<rect x="1911.95" y="318.02" width="6.86" height="25.55" fill="#1a1a1a" stroke-linejoin="miter"/>
<path d="M1903.03 356.35V369.12M1903.03 362.74H1909.56" stroke-width="3.2"/>
<path d="M1924.86 356.35V369.12M1924.86 362.74H1922.79" stroke-width="3.2"/>
<rect x="1909.56" y="349.96" width="13.23" height="25.55" fill="#1a1a1a" stroke-linejoin="miter"/>
<rect x="1911.31" y="351.71" width="2.19" height="22.05" fill="#9e4245" stroke="none"/>
<rect x="1917.1" y="351.71" width="3.94" height="22.05" fill="#bf4d50" stroke="none"/>
<path d="M1906.22 388.28V401.06M1906.22 394.67H1911.63" stroke-width="3.2"/>
<path d="M1920.56 388.28V401.06M1920.56 394.67H1917.21" stroke-width="3.2"/>
<rect x="1911.63" y="381.9" width="5.58" height="25.55" fill="#1a1a1a" stroke-linejoin="miter"/>
<path d="M1893.95 420.22V433M1893.95 426.61H1903.99" stroke-width="3.2"/>
<path d="M1923.27 420.22V433M1923.27 426.61H1918.33" stroke-width="3.2"/>
<rect x="1903.99" y="413.83" width="14.34" height="25.55" fill="#1a1a1a" stroke-linejoin="miter"/>
<rect x="1905.74" y="415.58" width="4.26" height="22.05" fill="#c14d51" stroke="none"/>
<rect x="1913.6" y="415.58" width="2.98" height="22.05" fill="#b3494d" stroke="none"/>
<path d="M1893.95 452.16V464.93M1893.95 458.54H1900" stroke-width="3.2"/>
<path d="M1916.57 452.16V464.93M1916.57 458.54H1908.13" stroke-width="3.2"/>
<rect x="1900" y="445.77" width="8.13" height="25.55" fill="#1a1a1a" stroke-linejoin="miter"/>
<rect x="1901.75" y="447.52" width="0.6" height="22.05" fill="#462829" stroke="none"/>
<rect x="1905.95" y="447.52" width="0.43" height="22.05" fill="#3a2425" stroke="none"/>
<path d="M1869.58 484.09V496.87M1869.58 490.48H1874.51" stroke-width="3.2"/>
<path d="M1885.51 484.09V496.87M1885.51 490.48H1881.69" stroke-width="3.2"/>
<rect x="1874.51" y="477.71" width="7.18" height="25.55" fill="#1a1a1a" stroke-linejoin="miter"/>
<path d="M1862.09 516.03V528.81M1862.09 522.42H1865.75" stroke-width="3.2"/>
<path d="M1889.49 516.03V528.81M1889.49 522.42H1880.09" stroke-width="3.2"/>
<rect x="1865.75" y="509.64" width="14.34" height="25.55" fill="#1a1a1a" stroke-linejoin="miter"/>
<rect x="1867.5" y="511.39" width="3.46" height="22.05" fill="#bb4b4f" stroke="none"/>
<rect x="1874.56" y="511.39" width="3.78" height="22.05" fill="#be4c50" stroke="none"/>
<path d="M1863.68 547.97V560.74M1863.68 554.36H1865.75" stroke-width="3.2"/>
<path d="M1879.61 547.97V560.74M1879.61 554.36H1874.68" stroke-width="3.2"/>
<rect x="1865.75" y="541.58" width="8.93" height="25.55" fill="#1a1a1a" stroke-linejoin="miter"/>
<rect x="1867.5" y="543.33" width="3.63" height="22.05" fill="#bd4c50" stroke="none"/>
<path d="M1865.59 579.9V592.68M1865.59 586.29H1868.14" stroke-width="3.2"/>
<path d="M1877.54 579.9V592.68M1877.54 586.29H1874.2" stroke-width="3.2"/>
<rect x="1868.14" y="573.52" width="6.06" height="25.55" fill="#1a1a1a" stroke-linejoin="miter"/>
<path d="M1862.27 611.84V624.62M1862.27 618.23H1865.93" stroke-width="3.2"/>
<rect x="1865.93" y="605.45" width="4.95" height="25.55" fill="#1a1a1a" stroke-linejoin="miter"/>
<path d="M1855.42 643.78V656.55M1855.42 650.16H1860.68" stroke-width="3.2"/>
<path d="M1873.27 643.78V656.55M1873.27 650.16H1868.01" stroke-width="3.2"/>
<rect x="1860.68" y="637.39" width="7.33" height="25.55" fill="#1a1a1a" stroke-linejoin="miter"/>
<rect x="1865.98" y="639.14" width="0.28" height="22.05" fill="#2f2021" stroke="none"/>
<path d="M1854.63 675.71V688.49M1854.63 682.1H1859.08" stroke-width="3.2"/>
<path d="M1877.41 675.71V688.49M1877.41 682.1H1868.33" stroke-width="3.2"/>
<rect x="1859.08" y="669.33" width="9.25" height="25.55" fill="#1a1a1a" stroke-linejoin="miter"/>
<rect x="1860.83" y="671.08" width="1.55" height="22.05" fill="#823a3c" stroke="none"/>
<rect x="1865.98" y="671.08" width="0.6" height="22.05" fill="#462829" stroke="none"/>
<path d="M1856.22 707.65V720.43M1856.22 714.04H1859.08" stroke-width="3.2"/>
<path d="M1870.56 707.65V720.43M1870.56 714.04H1865.14" stroke-width="3.2"/>
<rect x="1859.08" y="701.26" width="6.06" height="25.55" fill="#1a1a1a" stroke-linejoin="miter"/>
<path d="M1849.05 739.59V752.36M1849.05 745.98H1852.71" stroke-width="3.2"/>
<path d="M1872.95 739.59V752.36M1872.95 745.98H1865.62" stroke-width="3.2"/>
<rect x="1852.71" y="733.2" width="12.91" height="25.55" fill="#1a1a1a" stroke-linejoin="miter"/>
<rect x="1854.46" y="734.95" width="6.65" height="22.05" fill="#c44e52" stroke="none"/>
<path d="M1845.54 771.52V784.3M1845.54 777.91H1848.73" stroke-width="3.2"/>
<path d="M1866.26 771.52V784.3M1866.26 777.91H1855.74" stroke-width="3.2"/>
<rect x="1848.73" y="765.14" width="7.01" height="25.55" fill="#1a1a1a" stroke-linejoin="miter"/>
<path d="M1832.8 803.46V816.24M1832.8 809.85H1844.75" stroke-width="3.2"/>
<path d="M1863.39 803.46V816.24M1863.39 809.85H1852.4" stroke-width="3.2"/>
<rect x="1844.75" y="797.07" width="7.65" height="25.55" fill="#1a1a1a" stroke-linejoin="miter"/>
<rect x="1846.5" y="798.82" width="1.55" height="22.05" fill="#823a3c" stroke="none"/>
<path d="M1825.63 835.4V848.17M1825.63 841.78H1838.85" stroke-width="3.2"/>
<path d="M1851.92 835.4V848.17M1851.92 841.78H1847.62" stroke-width="3.2"/>
<rect x="1838.85" y="829.01" width="8.77" height="25.55" fill="#1a1a1a" stroke-linejoin="miter"/>
<rect x="1842.56" y="830.76" width="3.31" height="22.05" fill="#b94b4e" stroke="none"/>
<path d="M1823.56 867.33V880.11M1823.56 873.72H1827.22" stroke-width="3.2"/>
<path d="M1835.99 867.33V880.11M1835.99 873.72H1832.64" stroke-width="3.2"/>
<rect x="1827.22" y="860.95" width="5.42" height="25.55" fill="#1a1a1a" stroke-linejoin="miter"/>
<path d="M1803.39 899.27V912.05M1803.39 905.66H1812.79" stroke-width="3.2"/>
<path d="M1828.88 899.27V912.05M1828.88 905.66H1824.74" stroke-width="3.2"/>
<rect x="1812.79" y="892.88" width="11.95" height="25.55" fill="#1a1a1a" stroke-linejoin="miter"/>
<rect x="1814.54" y="894.63" width="2.66" height="22.05" fill="#ac474a" stroke="none"/>
<rect x="1820.8" y="894.63" width="2.19" height="22.05" fill="#9e4245" stroke="none"/>
<path d="M1757.98 931.21V943.98M1757.98 937.6H1766.42" stroke-width="3.2"/>
<path d="M1777.9 931.21V943.98M1777.9 937.6H1772.96" stroke-width="3.2"/>
<rect x="1766.42" y="924.82" width="6.54" height="25.55" fill="#1a1a1a" stroke-linejoin="miter"/>
<rect x="1768.17" y="926.57" width="1.24" height="22.05" fill="#713437" stroke="none"/>
<path d="M1692.66 963.14V975.92M1692.66 969.53H1696.8" stroke-width="3.2"/>
<path d="M1728.19 963.14V975.92M1728.19 969.53H1710.03" stroke-width="3.2"/>
<rect x="1696.8" y="956.76" width="13.23" height="25.55" fill="#1a1a1a" stroke-linejoin="miter"/>
<rect x="1698.55" y="958.51" width="2.35" height="22.05" fill="#a34447" stroke="none"/>
<rect x="1704.5" y="958.51" width="3.78" height="22.05" fill="#be4c50" stroke="none"/>
</g>
<g fill="#808080" fill-opacity="0.3" stroke="#6e6e6e" stroke-opacity="0.55" stroke-width="1.6">
<circle cx="2054.4" cy="75.31" r="4.2"/>
<circle cx="1971.08" cy="139.18" r="4.2"/>
<circle cx="1913.41" cy="171.12" r="4.2"/>
<circle cx="1954.51" cy="171.12" r="4.2"/>
<circle cx="1936.99" cy="298.86" r="4.2"/>
<circle cx="1884.42" cy="618.23" r="4.2"/>
<circle cx="1844.27" cy="714.04" r="4.2"/>
<circle cx="1876.93" cy="714.04" r="4.2"/>
<circle cx="1868.49" cy="777.91" r="4.2"/>
<circle cx="1818.78" cy="873.72" r="4.2"/>
<circle cx="1846.98" cy="873.72" r="4.2"/>
<circle cx="1741.73" cy="937.6" r="4.2"/>
</g>
<g stroke="#1a1a1a" stroke-width="3.1" fill="none" stroke-linecap="butt">
<path d="M1671.9 27.4V985.5H2163" stroke-linecap="round" stroke-linejoin="miter"/>
<path d="M1656.2 43.37H1671.9M1656.2 75.31H1671.9M1656.2 107.24H1671.9M1656.2 139.18H1671.9M1656.2 171.12H1671.9M1656.2 203.05H1671.9M1656.2 234.99H1671.9M1656.2 266.93H1671.9M1656.2 298.86H1671.9M1656.2 330.8H1671.9M1656.2 362.74H1671.9M1656.2 394.67H1671.9M1656.2 426.61H1671.9M1656.2 458.54H1671.9M1656.2 490.48H1671.9M1656.2 522.42H1671.9M1656.2 554.36H1671.9M1656.2 586.29H1671.9M1656.2 618.23H1671.9M1656.2 650.16H1671.9M1656.2 682.1H1671.9M1656.2 714.04H1671.9M1656.2 745.98H1671.9M1656.2 777.91H1671.9M1656.2 809.85H1671.9M1656.2 841.78H1671.9M1656.2 873.72H1671.9M1656.2 905.66H1671.9M1656.2 937.6H1671.9M1656.2 969.53H1671.9M1700.6 985.5V1001.2M1796.95 985.5V1001.2M1893.3 985.5V1001.2M1989.65 985.5V1001.2M2086 985.5V1001.2" stroke-width="2.9"/>
</g>
<g font-size="29.04" text-anchor="end" fill="#1a1a1a">
<text x="1651" y="53.87">FABP4</text>
<text x="1649.4" y="85.81">LEP</text>
<text x="1649.4" y="117.74">ADM</text>
<text x="1649.4" y="149.68">IL16</text>
<text x="1649.4" y="181.62">IL6_2</text>
<text x="1649.4" y="213.55">HSPG2</text>
<text x="1649.4" y="245.49">MB</text>
<text x="1649.4" y="277.43">CSF1</text>
<text x="1649.4" y="309.36">IL18R1</text>
<text x="1649.4" y="341.3">SELE</text>
<text x="1651.56" y="373.24">TNFSF11</text>
<text x="1649.4" y="405.17">SLAMF1</text>
<text x="1649.4" y="437.11">HGF</text>
<text x="1649.4" y="469.04">MPO</text>
<text x="1649.4" y="500.98">FGF19</text>
<text x="1649.4" y="532.92">IGFBP2</text>
<text x="1649.4" y="564.86">SFTPD</text>
<text x="1649.4" y="596.79">MMP10</text>
<text x="1649.4" y="628.73">AGRP</text>
<text x="1649.4" y="660.66">CST5</text>
<text x="1651.56" y="692.6">CXCL11</text>
<text x="1649.4" y="724.54">FIGF</text>
<text x="1649.4" y="756.48">GDF2</text>
<text x="1649.4" y="788.41">DNER</text>
<text x="1649.4" y="820.35">CCL28</text>
<text x="1649.4" y="852.28">PON3</text>
<text x="1649.4" y="884.22">SCGB3A2</text>
<text x="1649.4" y="916.16">KLK6</text>
<text x="1649.4" y="948.1">AGER</text>
<text x="1649.4" y="980.03">IGFBP1</text>
</g>
<g font-size="29.04" text-anchor="middle" fill="#1a1a1a">
<text x="1700.2" y="1029">−0.04</text>
<text x="1796.55" y="1029">−0.02</text>
<text x="1892.9" y="1029">0.00</text>
<text x="1989.25" y="1029">0.02</text>
<text x="2085.6" y="1029">0.04</text>
</g>
<g font-size="31.85" text-anchor="middle" fill="#1a1a1a">
<text x="1917.25" y="1065.8"><tspan font-style="italic">β</tspan>-coefficient in LASSO model</text>
<text x="1986.25" y="1107.4" text-anchor="end">[log-scaled BMI (kg m</text>
<text x="1987.25" y="1095.4" text-anchor="start" font-family="'DejaVu Sans', sans-serif" font-size="21.0">−</text>
<text x="2005.25" y="1095.5" text-anchor="start" font-size="22.6">2</text>
<text x="2020.05" y="1107.4" text-anchor="start">) per s.d.]</text>
</g>
<text x="1267.3" y="40.3" font-size="52.5" font-weight="bold" fill="#000">b</text>
</g>
<g class="panel-c">
<g fill="#dfebe2">
<rect x="1675.2" y="1276.73" width="487" height="32.5"/>
<rect x="1675.2" y="1343.83" width="487" height="32.5"/>
<rect x="1675.2" y="1410.92" width="487" height="32.5"/>
<rect x="1675.2" y="1478.03" width="487" height="32.5"/>
<rect x="1675.2" y="1545.12" width="487" height="32.5"/>
<rect x="1675.2" y="1612.22" width="487" height="32.5"/>
<rect x="1675.2" y="1679.33" width="487" height="32.5"/>
<rect x="1675.2" y="1746.42" width="487" height="32.5"/>
<rect x="1675.2" y="1813.53" width="487" height="32.5"/>
<rect x="1675.2" y="1880.62" width="487" height="32.5"/>
</g>
<g stroke="#000" stroke-width="2.65" stroke-dasharray="9.65 4.53" fill="none">
<line x1="1701.1" y1="1947.2" x2="1701.1" y2="1276.6"/>
<line x1="1797.4" y1="1947.2" x2="1797.4" y2="1276.6"/>
<line x1="1893.7" y1="1947.2" x2="1893.7" y2="1276.6"/>
<line x1="1990" y1="1947.2" x2="1990" y2="1276.6"/>
<line x1="2086.3" y1="1947.2" x2="2086.3" y2="1276.6"/>
</g>
<g stroke="#1a1a1a" stroke-width="3.5" stroke-linecap="round" fill="none">
<path d="M2107.78 1286.27V1299.69M2107.78 1292.98H2111.92" stroke-width="3.2"/>
<path d="M2126.9 1286.27V1299.69M2126.9 1292.98H2120.37" stroke-width="3.2"/>
<rect x="2111.92" y="1279.56" width="8.45" height="26.84" fill="#1a1a1a" stroke-linejoin="miter"/>
<rect x="2113.67" y="1281.31" width="1.07" height="23.34" fill="#345a3d" stroke="none"/>
<rect x="2118.34" y="1281.31" width="0.28" height="23.34" fill="#212c24" stroke="none"/>
<path d="M2083.08 1319.82V1333.24M2083.08 1326.53H2079.74" stroke-width="3.2"/>
<rect x="2074" y="1313.11" width="5.74" height="26.84" fill="#1a1a1a" stroke-linejoin="miter"/>
<path d="M1982.39 1353.37V1366.79M1982.39 1360.08H1994.34" stroke-width="3.2"/>
<path d="M2020.63 1353.37V1366.79M2020.63 1360.08H2017.6" stroke-width="3.2"/>
<rect x="1994.34" y="1346.65" width="23.26" height="26.84" fill="#1a1a1a" stroke-linejoin="miter"/>
<rect x="1996.09" y="1348.4" width="12.38" height="23.34" fill="#55a868" stroke="none"/>
<rect x="2012.07" y="1348.4" width="3.78" height="23.34" fill="#53a365" stroke="none"/>
<path d="M1976.34 1386.91V1400.34M1976.34 1393.62H1986.05" stroke-width="3.2"/>
<path d="M1999.44 1386.91V1400.34M1999.44 1393.62H1993.71" stroke-width="3.2"/>
<rect x="1986.05" y="1380.2" width="7.66" height="26.84" fill="#1a1a1a" stroke-linejoin="miter"/>
<rect x="1990.09" y="1381.95" width="1.87" height="23.34" fill="#437e51" stroke="none"/>
<path d="M1972.35 1420.46V1433.88M1972.35 1427.17H1978.57" stroke-width="3.2"/>
<path d="M1988.76 1420.46V1433.88M1988.76 1427.17H1983.35" stroke-width="3.2"/>
<rect x="1978.57" y="1413.75" width="4.78" height="26.84" fill="#1a1a1a" stroke-linejoin="miter"/>
<path d="M1965.98 1454.01V1467.43M1965.98 1460.72H1971.71" stroke-width="3.2"/>
<path d="M1988.29 1454.01V1467.43M1988.29 1460.72H1980.64" stroke-width="3.2"/>
<rect x="1971.71" y="1447.3" width="8.93" height="26.84" fill="#1a1a1a" stroke-linejoin="miter"/>
<rect x="1976.23" y="1449.05" width="2.66" height="23.34" fill="#4d945d" stroke="none"/>
<path d="M1961.2 1487.57V1500.99M1961.2 1494.28H1958.66" stroke-width="3.2"/>
<rect x="1953.07" y="1480.86" width="5.59" height="26.84" fill="#1a1a1a" stroke-linejoin="miter"/>
<path d="M1915.8 1521.12V1534.54M1915.8 1527.83H1937.78" stroke-width="3.2"/>
<path d="M1968.85 1521.12V1534.54M1968.85 1527.83H1960.25" stroke-width="3.2"/>
<rect x="1937.78" y="1514.4" width="22.47" height="26.84" fill="#1a1a1a" stroke-linejoin="miter"/>
<rect x="1939.53" y="1516.15" width="11.11" height="23.34" fill="#55a868" stroke="none"/>
<rect x="1954.24" y="1516.15" width="4.26" height="23.34" fill="#54a567" stroke="none"/>
<path d="M1927.41 1554.66V1568.09M1927.41 1561.38H1933.78" stroke-width="3.2"/>
<rect x="1933.78" y="1547.95" width="6.54" height="26.84" fill="#1a1a1a" stroke-linejoin="miter"/>
<path d="M1915.78 1588.21V1601.63M1915.78 1594.92H1920.24" stroke-width="3.2"/>
<path d="M1930.59 1588.21V1601.63M1930.59 1594.92H1926.77" stroke-width="3.2"/>
<rect x="1920.24" y="1581.5" width="6.53" height="26.84" fill="#1a1a1a" stroke-linejoin="miter"/>
<rect x="1908.45" y="1615.05" width="4.46" height="26.84" fill="#1a1a1a" stroke-linejoin="miter"/>
<path d="M1863.68 1655.32V1668.74M1863.68 1662.03H1875.63" stroke-width="3.2"/>
<path d="M1893.47 1655.32V1668.74M1893.47 1662.03H1887.42" stroke-width="3.2"/>
<rect x="1875.63" y="1648.61" width="11.79" height="26.84" fill="#1a1a1a" stroke-linejoin="miter"/>
<rect x="1880.14" y="1650.36" width="5.53" height="23.34" fill="#55a868" stroke="none"/>
<path d="M1862.09 1688.87V1702.29M1862.09 1695.58H1872.12" stroke-width="3.2"/>
<path d="M1888.69 1688.87V1702.29M1888.69 1695.58H1886.15" stroke-width="3.2"/>
<rect x="1872.12" y="1682.15" width="14.03" height="26.84" fill="#1a1a1a" stroke-linejoin="miter"/>
<rect x="1873.87" y="1683.9" width="1.87" height="23.34" fill="#437e51" stroke="none"/>
<rect x="1879.34" y="1683.9" width="5.06" height="23.34" fill="#55a768" stroke="none"/>
<path d="M1866.39 1722.41V1735.84M1866.39 1729.12H1870.05" stroke-width="3.2"/>
<path d="M1885.03 1722.41V1735.84M1885.03 1729.12H1880.57" stroke-width="3.2"/>
<rect x="1870.05" y="1715.7" width="10.52" height="26.84" fill="#1a1a1a" stroke-linejoin="miter"/>
<rect x="1871.8" y="1717.45" width="3.94" height="23.34" fill="#53a466" stroke="none"/>
<path d="M1864.32 1755.96V1769.38M1864.32 1762.67H1869.25" stroke-width="3.2"/>
<path d="M1885.03 1755.96V1769.38M1885.03 1762.67H1881.37" stroke-width="3.2"/>
<rect x="1869.25" y="1749.25" width="12.12" height="26.84" fill="#1a1a1a" stroke-linejoin="miter"/>
<rect x="1871" y="1751" width="0.28" height="23.34" fill="#212c24" stroke="none"/>
<rect x="1874.88" y="1751" width="4.74" height="23.34" fill="#55a767" stroke="none"/>
<path d="M1852.46 1789.51V1802.93M1852.46 1796.22H1864.09" stroke-width="3.2"/>
<path d="M1893.4 1789.51V1802.93M1893.4 1796.22H1879.39" stroke-width="3.2"/>
<rect x="1864.09" y="1782.8" width="15.3" height="26.84" fill="#1a1a1a" stroke-linejoin="miter"/>
<rect x="1865.84" y="1784.55" width="2.66" height="23.34" fill="#4d945d" stroke="none"/>
<rect x="1872.1" y="1784.55" width="5.54" height="23.34" fill="#55a868" stroke="none"/>
<path d="M1824.1 1823.07V1836.49M1824.1 1829.78H1838.91" stroke-width="3.2"/>
<path d="M1876.68 1823.07V1836.49M1876.68 1829.78H1864.25" stroke-width="3.2"/>
<rect x="1838.91" y="1816.36" width="25.34" height="26.84" fill="#1a1a1a" stroke-linejoin="miter"/>
<rect x="1840.66" y="1818.11" width="6.65" height="23.34" fill="#55a868" stroke="none"/>
<rect x="1850.91" y="1818.11" width="11.59" height="23.34" fill="#55a868" stroke="none"/>
<path d="M1808.17 1856.62V1870.04M1808.17 1863.33H1813.1" stroke-width="3.2"/>
<path d="M1829.2 1856.62V1870.04M1829.2 1863.33H1823.94" stroke-width="3.2"/>
<rect x="1813.1" y="1849.9" width="10.84" height="26.84" fill="#1a1a1a" stroke-linejoin="miter"/>
<rect x="1817.93" y="1851.65" width="4.26" height="23.34" fill="#54a567" stroke="none"/>
<path d="M1774.39 1890.16V1903.59M1774.39 1896.88H1780.92" stroke-width="3.2"/>
<path d="M1814.54 1890.16V1903.59M1814.54 1896.88H1796.86" stroke-width="3.2"/>
<rect x="1780.92" y="1883.45" width="15.94" height="26.84" fill="#1a1a1a" stroke-linejoin="miter"/>
<rect x="1782.67" y="1885.2" width="7.77" height="23.34" fill="#55a868" stroke="none"/>
<rect x="1794.04" y="1885.2" width="1.07" height="23.34" fill="#345a3d" stroke="none"/>
<path d="M1681.99 1923.71V1937.13M1681.99 1930.42H1691.22" stroke-width="3.2"/>
<path d="M1719.27 1923.71V1937.13M1719.27 1930.42H1708.91" stroke-width="3.2"/>
<rect x="1691.22" y="1917" width="17.69" height="26.84" fill="#1a1a1a" stroke-linejoin="miter"/>
<rect x="1692.97" y="1918.75" width="3.94" height="23.34" fill="#53a466" stroke="none"/>
<rect x="1700.51" y="1918.75" width="6.65" height="23.34" fill="#55a868" stroke="none"/>
</g>
<g fill="#808080" fill-opacity="0.3" stroke="#6e6e6e" stroke-opacity="0.55" stroke-width="1.6">
<circle cx="2153.18" cy="1292.98" r="4.2"/>
<circle cx="2055.2" cy="1326.53" r="4.2"/>
<circle cx="2062.69" cy="1326.53" r="4.2"/>
<circle cx="2009" cy="1393.62" r="4.2"/>
<circle cx="1997.53" cy="1427.17" r="4.2"/>
<circle cx="1933.32" cy="1494.28" r="4.2"/>
<circle cx="1944.47" cy="1494.28" r="4.2"/>
<circle cx="1968.05" cy="1494.28" r="4.2"/>
<circle cx="1954.01" cy="1561.38" r="4.2"/>
<circle cx="1975.52" cy="1561.38" r="4.2"/>
<circle cx="1898.25" cy="1628.47" r="4.2"/>
<circle cx="1922.63" cy="1628.47" r="4.2"/>
</g>
<g stroke="#1a1a1a" stroke-width="3.1" fill="none" stroke-linecap="butt">
<path d="M1672.6 1276.2V1947.2H2163" stroke-linecap="round" stroke-linejoin="miter"/>
<path d="M1656.9 1292.98H1672.6M1656.9 1326.53H1672.6M1656.9 1360.08H1672.6M1656.9 1393.62H1672.6M1656.9 1427.17H1672.6M1656.9 1460.72H1672.6M1656.9 1494.28H1672.6M1656.9 1527.83H1672.6M1656.9 1561.38H1672.6M1656.9 1594.92H1672.6M1656.9 1628.47H1672.6M1656.9 1662.03H1672.6M1656.9 1695.58H1672.6M1656.9 1729.12H1672.6M1656.9 1762.67H1672.6M1656.9 1796.22H1672.6M1656.9 1829.78H1672.6M1656.9 1863.33H1672.6M1656.9 1896.88H1672.6M1656.9 1930.42H1672.6M1701.1 1947.2V1962.9M1797.4 1947.2V1962.9M1893.7 1947.2V1962.9M1990 1947.2V1962.9M2086.3 1947.2V1962.9" stroke-width="2.9"/>
</g>
<g font-size="29.04" text-anchor="end" fill="#1a1a1a">
<text x="1650.6" y="1303.18">INSULIN</text>
<text x="1652.2" y="1336.73">URIC ACID</text>
<text x="1650.6" y="1370.28">LPIR_SCORE</text>
<text x="1651.68" y="1403.83">WHITE CELL COUNT</text>
<text x="1654.91" y="1437.38">ALKALINE PHOSPHATASE</text>
<text x="1652.2" y="1470.92">ARACHIDONIC ACID</text>
<text x="1650.6" y="1504.48">RDW</text>
<text x="1653.83" y="1538.03">LDL-CHOL CALCULATION</text>
<text x="1651.12" y="1571.58">CRP HIGH SENSITIVITY</text>
<text x="1655.44" y="1605.12">BUN/CREAT RATIO</text>
<text x="1650.6" y="1638.67">LDL_SIZE</text>
<text x="1654.88" y="1672.23">PROTEIN, TOTAL SERUM</text>
<text x="1650.6" y="1705.78">EOSINOPHILS</text>
<text x="1650.6" y="1739.33">MAGNESIUM, SERUM</text>
<text x="1650.6" y="1772.88">CALCIUM</text>
<text x="1653.8" y="1806.42">GFR, MDRD, AFRICAN AM</text>
<text x="1652.76" y="1839.98">CREATININE ENZ, SER</text>
<text x="1650.6" y="1873.53">DHA</text>
<text x="1652.76" y="1907.08">HDL CHOL DIRECT</text>
<text x="1650.6" y="1940.62">ALBUMIN</text>
</g>
<g font-size="29.04" text-anchor="middle" fill="#1a1a1a">
<text x="1700.7" y="1990.5">−0.04</text>
<text x="1797" y="1990.5">−0.02</text>
<text x="1893.3" y="1990.5">0.00</text>
<text x="1989.6" y="1990.5">0.02</text>
<text x="2085.9" y="1990.5">0.04</text>
</g>
<g font-size="31.85" text-anchor="middle" fill="#1a1a1a">
<text x="1917.6" y="2027.5"><tspan font-style="italic">β</tspan>-coefficient in LASSO model</text>
<text x="1986.6" y="2069.1" text-anchor="end">[log-scaled BMI (kg m</text>
<text x="1987.6" y="2057.1" text-anchor="start" font-family="'DejaVu Sans', sans-serif" font-size="21.0">−</text>
<text x="2005.6" y="2057.2" text-anchor="start" font-size="22.6">2</text>
<text x="2020.4" y="2069.1" text-anchor="start">) per s.d.]</text>
</g>
<text x="1268.6" y="1284.6" font-size="52.5" font-weight="bold" fill="#000">c</text>
</g>
</svg>
</body>
</html>
